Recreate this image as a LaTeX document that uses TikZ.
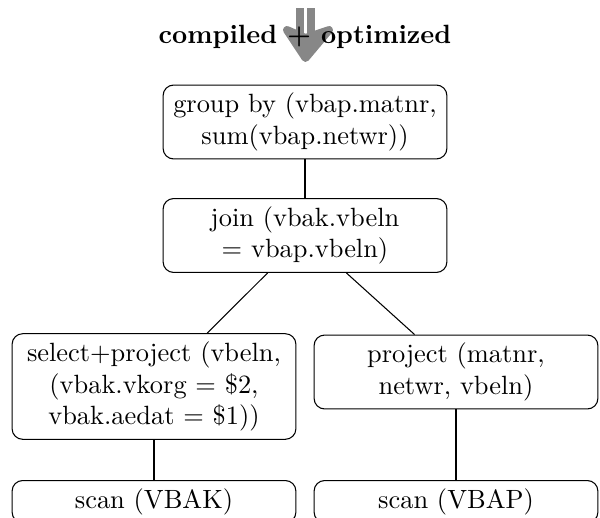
\documentclass[tikz,border=0pt]{standalone}
\usetikzlibrary{arrows.meta}
\begin{document}
\begin{tikzpicture}[x=0.3788pt,y=-0.3788pt,
  opbox/.style={draw, rounded corners=4pt, align=center, text width=101.5pt, inner sep=3pt},
  edge/.style={draw, line width=0.4pt}]
\useasboundingbox (0,0) rectangle (600,517);
\clip (0,0) rectangle (600,517);
% top arrow
\draw[black!47, line width=3.1pt, double=white, double distance=0.9pt] (305.5,8) -- (305.5,42);
\filldraw[black!47, line join=round, line width=3pt] (287,30) -- (305.5,38) -- (329,30) -- (305.5,58) -- cycle;
\node[font=\bfseries] (title) at (305,37) {compiled + optimized};
% operator nodes
\node[opbox] (groupby) at (305,122) {group by (vbap.matnr, sum(vbap.netwr))};
\node[opbox] (join) at (305,235.5) {join (vbak.vbeln = vbap.vbeln)};
\node[opbox] (select) at (154,386.5) {select+project (vbeln, (vbak.vkorg = \$2, vbak.aedat = \$1))};
\node[opbox] (project) at (456,372) {project (matnr, netwr, vbeln)};
\node[opbox, anchor=north] (scanvbak) at (154,480) {scan (VBAK)};
\node[opbox, anchor=north] (scanvbap) at (456,480) {scan (VBAP)};
% connectors
\draw[edge] (groupby) -- (join);
\draw[edge] (join) -- (select);
\draw[edge] (join) -- (project);
\draw[edge] (select) -- (scanvbak);
\draw[edge] (project) -- (scanvbap);
\end{tikzpicture}
\end{document}
